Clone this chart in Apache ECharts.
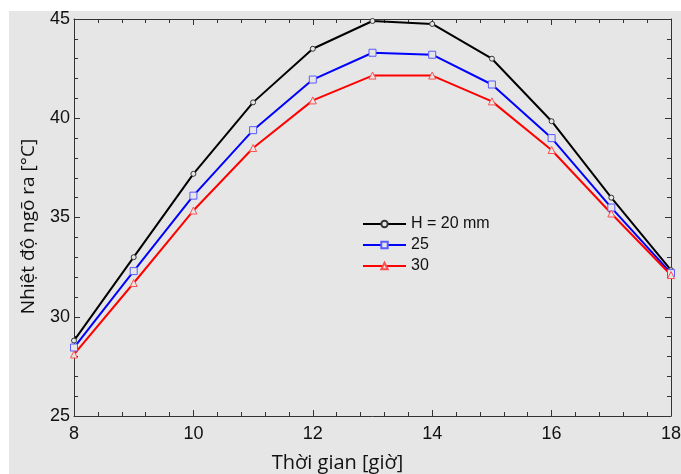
<!DOCTYPE html>
<html><head><meta charset="utf-8">
<script src="https://cdn.jsdelivr.net/npm/echarts@6/dist/echarts.min.js"></script>
<style>
html,body{margin:0;padding:0;background:#fff;}
#bg{position:absolute;left:9px;top:11px;width:672px;height:463px;background:#e6e6e6;}
#chart{position:absolute;left:0;top:0;width:681px;height:474px;}
</style></head>
<body><div id="bg"></div><div id="chart"></div>
<script>
const hours = [8, 9, 10, 11, 12, 13, 14, 15, 16, 17, 18];
const h20 = [28.8, 33.0, 37.2, 40.8, 43.5, 44.9, 44.75, 43.0, 39.85, 36.0, 32.35];
const h25 = [28.45, 32.3, 36.1, 39.4, 41.95, 43.3, 43.2, 41.7, 39.0, 35.5, 32.2];
const h30 = [28.1, 31.7, 35.35, 38.5, 40.9, 42.15, 42.15, 40.85, 38.4, 35.2, 32.1];
const seriesNames = ['H = 20 mm', '25', '30'];

const pairs = arr => hours.map((h, i) => [h, arr[i]]);
const chart = echarts.init(document.getElementById('chart'));
const axisLine = {show: true, lineStyle: {color: '#333', width: 1}};
const tickFont = {fontFamily: 'Liberation Sans, Arial', fontSize: 18, color: '#111'};
function mkSeries(name, data, color, border, symbol, size) {
  return {
    name, type: 'line', data: pairs(data), symbol, symbolSize: size,
    showSymbol: true,
    lineStyle: {color, width: 2},
    itemStyle: {color: '#e6e6e6', borderColor: border, borderWidth: 1},
    emphasis: {disabled: true}
  };
}
chart.setOption({
  animation: false,
  backgroundColor: 'transparent',
  grid: {left: 74, top: 19, right: 10, bottom: 58, containLabel: false, outerBoundsMode: 'none'},
  legend: {
    left: 357, top: 211, orient: 'vertical',
    itemWidth: 43, itemHeight: 8, itemGap: 5,
    textStyle: {fontFamily: 'Liberation Sans, Arial', fontSize: 16, color: '#111'},
    data: seriesNames
  },
  xAxis: [{
    type: 'value', min: 8, max: 18, interval: 2,
    name: 'Thời gian [giờ]', nameLocation: 'middle', nameGap: 37,
    nameTextStyle: {fontFamily: 'Open Sans', fontSize: 20, color: '#111', padding: [0, 70, 0, 0]},
    axisLine, axisTick: {inside: true, length: 6, lineStyle: {color: '#333'}},
    minorTick: {show: true, splitNumber: 5, length: 4, lineStyle: {color: '#333'}},
    axisLabel: Object.assign({margin: 9}, tickFont),
    splitLine: {show: false}
  }, {
    type: 'value', min: 8, max: 18, interval: 2, position: 'top',
    axisLine, axisTick: {inside: true, length: 6, lineStyle: {color: '#333'}},
    minorTick: {show: true, splitNumber: 5, length: 4, lineStyle: {color: '#333'}},
    axisLabel: {show: false}, splitLine: {show: false}
  }],
  yAxis: [{
    type: 'value', min: 25, max: 45, interval: 5,
    name: 'Nhiệt độ ngõ ra [°C]', nameLocation: 'middle', nameGap: 36,
    nameTextStyle: {fontFamily: 'Open Sans', fontSize: 19, color: '#111', padding: [0, 18, 0, 0]},
    axisLine, axisTick: {inside: true, length: 6, lineStyle: {color: '#333'}},
    minorTick: {show: true, splitNumber: 5, length: 4, lineStyle: {color: '#333'}},
    axisLabel: Object.assign({margin: 4}, tickFont),
    splitLine: {show: false}
  }, {
    type: 'value', min: 25, max: 45, interval: 5, position: 'right',
    axisLine, axisTick: {inside: true, length: 6, lineStyle: {color: '#333'}},
    minorTick: {show: true, splitNumber: 5, length: 4, lineStyle: {color: '#333'}},
    axisLabel: {show: false}, splitLine: {show: false}
  }],
  series: [
    mkSeries(seriesNames[0], h20, '#000000', '#333333', 'circle', 5),
    mkSeries(seriesNames[1], h25, '#0000ff', '#5a5aff', 'rect', 7),
    mkSeries(seriesNames[2], h30, '#ff0000', '#ff5050', 'triangle', 7)
  ]
});
</script></body></html>
